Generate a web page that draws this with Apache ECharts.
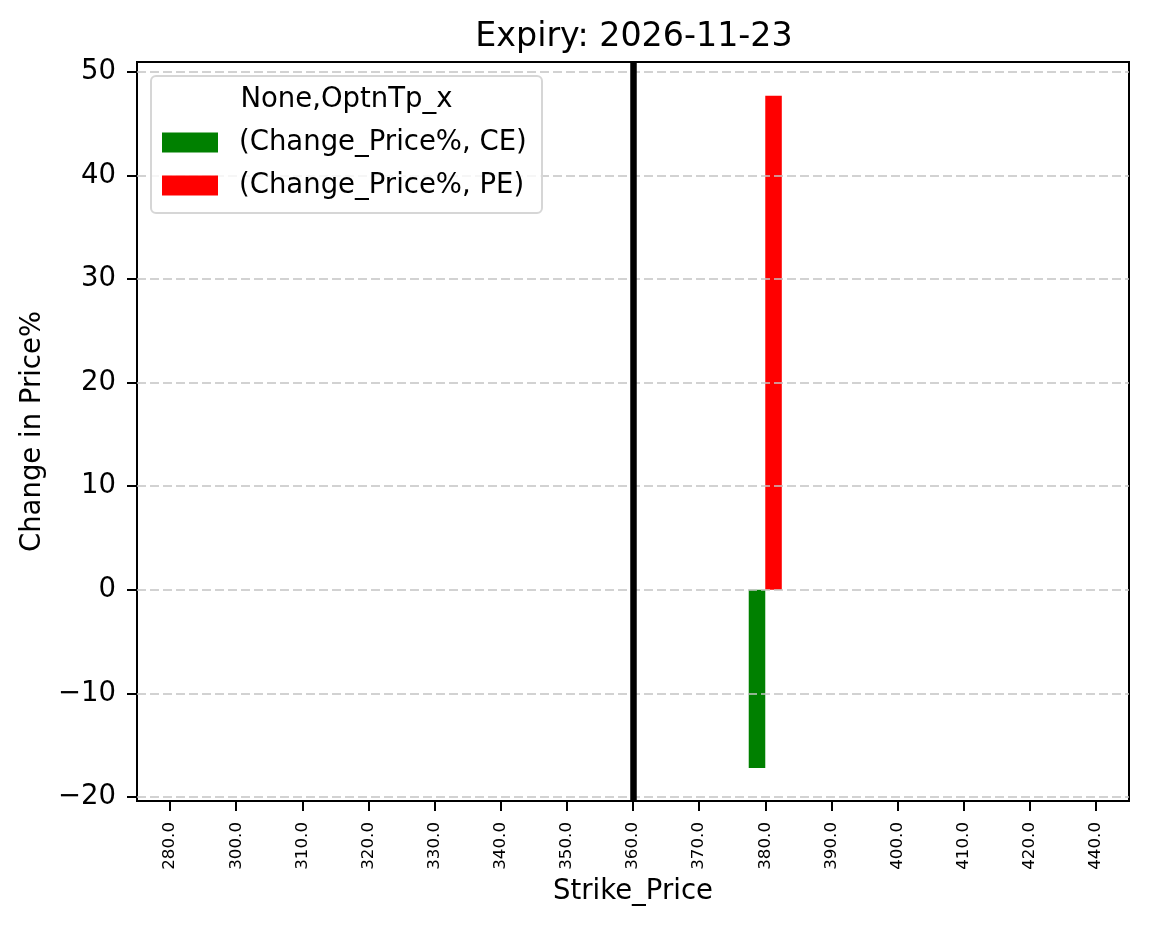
<!DOCTYPE html>
<html>
<head>
<meta charset="utf-8">
<script src="https://cdn.jsdelivr.net/npm/echarts@6/dist/echarts.min.js"></script>
<style>
html,body{margin:0;padding:0;background:#fff;}
#chart{width:1149px;height:928px;}
</style>
</head>
<body>
<div id="chart"></div>
<script>
// ---- data ----
var categories = ['280.0','300.0','310.0','320.0','330.0','340.0','350.0','360.0','370.0','380.0','390.0','400.0','410.0','420.0','440.0'];
var ceValues = [null,null,null,null,null,null,null,null,null,-17.2,null,null,null,null,null];
var peValues = [null,null,null,null,null,null,null,null,null,47.7,null,null,null,null,null];
var yTicks = [-20,-10,0,10,20,30,40,50];
var spotStrike = '360.0';
var titleText = 'Expiry: 2026-11-23';
var legendTitle = 'None,OptnTp_x';
var seriesNames = ['(Change_Price%, CE)', '(Change_Price%, PE)'];

var FONT = 'DejaVu Sans';
var chart = echarts.init(document.getElementById('chart'));

function fmtY(v){ return String(v).replace('-', '\u2212'); }

var option = {
  animation: false,
  backgroundColor: '#ffffff',
  title: {
    text: titleText,
    left: 629,
    textAlign: 'center',
    top: 16,
    textStyle: {fontFamily: FONT, fontSize: 33.3, fontWeight: 'normal', color: '#000'}
  },
  grid: {
    left: 137, top: 62, width: 992, height: 739,
    show: true, borderColor: '#000', borderWidth: 2, backgroundColor: 'transparent'
  },
  legend: {
    data: seriesNames,
    orient: 'vertical',
    left: 162,
    top: 128.5,
    padding: 0,
    itemWidth: 56,
    itemHeight: 20,
    itemGap: 15,
    icon: 'rect',
    z: 20,
    selectedMode: false,
    textStyle: {fontFamily: FONT, fontSize: 27.5, color: '#000', padding: [0,0,0,16]}
  },
  graphic: [
    {
      type: 'rect', z: 10,
      shape: {x: 151, y: 76, width: 391, height: 137, r: 5},
      style: {fill: 'rgba(255,255,255,0.8)', stroke: '#d6d6d6', lineWidth: 2}
    },
    {
      type: 'text', z: 21,
      x: 346.5, y: 100,
      style: {text: legendTitle, fontFamily: FONT, fontSize: 27.5, fill: '#000', align: 'center', verticalAlign: 'middle'}
    }
  ],
  xAxis: {
    type: 'category',
    data: categories,
    boundaryGap: true,
    name: 'Strike_Price',
    nameLocation: 'middle',
    nameGap: 75,
    nameTextStyle: {fontFamily: FONT, fontSize: 27.5, color: '#000'},
    axisLine: {show: true, onZero: false, lineStyle: {color: '#000', width: 2}},
    axisTick: {show: true, alignWithLabel: true, interval: 0, length: 10, lineStyle: {color: '#000', width: 2}},
    axisLabel: {interval: 0, rotate: 90, margin: 21, fontFamily: FONT, fontSize: 16.7, color: '#000'},
    splitLine: {show: false}
  },
  yAxis: {
    type: 'value',
    min: -20.39,
    max: 50.95,
    name: 'Change in Price%',
    nameLocation: 'middle',
    nameRotate: 90,
    nameGap: 87,
    nameTextStyle: {fontFamily: FONT, fontSize: 27.5, color: '#000'},
    axisLine: {show: true, lineStyle: {color: '#000', width: 2}},
    axisTick: {show: true, length: 10, lineStyle: {color: '#000', width: 2}, customValues: yTicks},
    axisLabel: {margin: 21, fontFamily: FONT, fontSize: 27.5, color: '#000', customValues: yTicks, formatter: fmtY},
    splitLine: {show: false}
  },
  series: [
    {
      name: seriesNames[0],
      type: 'bar',
      data: ceValues,
      barWidth: '25%',
      barGap: '0%',
      itemStyle: {color: '#008000'},
      z: 2
    },
    {
      name: seriesNames[1],
      type: 'bar',
      data: peValues,
      barWidth: '25%',
      barGap: '0%',
      itemStyle: {color: '#ff0000'},
      z: 2
    },
    {
      name: 'grid',
      type: 'line',
      data: [],
      z: 3,
      silent: true,
      markLine: {
        silent: true,
        symbol: ['none','none'],
        label: {show: false},
        lineStyle: {color: '#c4c4c4', width: 1.6, type: [9,4]},
        data: yTicks.map(function(v){ return {yAxis: v}; })
      }
    },
    {
      name: 'spot',
      type: 'line',
      data: [],
      z: 5,
      silent: true,
      markLine: {
        silent: true,
        symbol: ['none','none'],
        label: {show: false},
        lineStyle: {color: '#000', width: 6.5, type: 'solid'},
        data: [{xAxis: spotStrike}]
      }
    }
  ]
};
chart.setOption(option);
</script>
</body>
</html>
